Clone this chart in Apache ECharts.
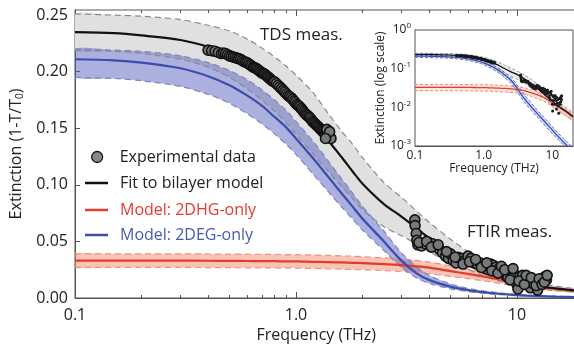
<!DOCTYPE html>
<html><head><meta charset="utf-8">
<script src="https://cdn.jsdelivr.net/npm/echarts@6/dist/echarts.min.js"></script>
<style>html,body{margin:0;padding:0;background:#fff}#c{width:574px;height:348px}</style>
</head><body><div id="c"></div>
<script>
// ---------- data ----------
const freqs = [0.1,0.15,0.2,0.3,0.4,0.5,0.6,0.7,0.8,0.9,1.0,1.2,1.4,1.6,1.8,2.0,2.5,3.0,3.5,4.0,5.0,6.0,7.0,8.0,10,12,15,20];
const fitExt   = [0.235,0.234,0.232,0.228,0.222,0.215,0.206,0.197,0.188,0.179,0.170,0.153,0.139,0.125,0.112,0.101,0.083,0.072,0.062,0.053,0.040,0.031,0.025,0.020,0.0145,0.011,0.0085,0.0058];
const fitUpper = [0.251,0.250,0.249,0.246,0.241,0.236,0.229,0.221,0.213,0.205,0.197,0.181,0.163,0.148,0.136,0.124,0.102,0.089,0.077,0.067,0.052,0.041,0.033,0.027,0.019,0.014,0.0105,0.0072];
const fitLower = [0.219,0.218,0.216,0.211,0.204,0.195,0.185,0.175,0.165,0.155,0.145,0.127,0.112,0.099,0.088,0.078,0.063,0.055,0.048,0.041,0.031,0.025,0.020,0.016,0.011,0.0085,0.0065,0.0046];
const hgExt    = [0.0330,0.0330,0.0330,0.0330,0.0329,0.0328,0.0327,0.0326,0.0325,0.0324,0.0323,0.0320,0.0317,0.0314,0.0311,0.0308,0.0300,0.0291,0.0280,0.0268,0.0238,0.0213,0.0190,0.0170,0.0130,0.0105,0.0080,0.0055];
const hgUpper  = [0.0390,0.0390,0.0390,0.0390,0.0389,0.0388,0.0387,0.0386,0.0385,0.0384,0.0383,0.0380,0.0377,0.0373,0.0369,0.0365,0.0355,0.0344,0.0332,0.0318,0.0283,0.0253,0.0226,0.0202,0.0155,0.0125,0.0095,0.0066];
const hgLower  = [0.0270,0.0270,0.0270,0.0270,0.0269,0.0268,0.0267,0.0266,0.0265,0.0264,0.0263,0.0261,0.0258,0.0255,0.0252,0.0249,0.0242,0.0234,0.0225,0.0215,0.0191,0.0171,0.0152,0.0136,0.0104,0.0084,0.0064,0.0044];
const egExt    = [0.211,0.210,0.208,0.203,0.196,0.188,0.179,0.170,0.160,0.151,0.141,0.123,0.107,0.093,0.081,0.070,0.050,0.033,0.022,0.016,0.010,0.007,0.0052,0.0040,0.0026,0.0018,0.0012,0.0007];
const egUpper  = [0.220,0.219,0.218,0.214,0.208,0.201,0.193,0.184,0.175,0.166,0.156,0.138,0.121,0.106,0.093,0.081,0.059,0.040,0.028,0.020,0.0125,0.0085,0.0064,0.0049,0.0032,0.0022,0.0015,0.0009];
const egLower  = [0.195,0.194,0.192,0.187,0.180,0.172,0.163,0.154,0.145,0.136,0.127,0.109,0.094,0.081,0.070,0.060,0.042,0.027,0.018,0.013,0.0081,0.0057,0.0042,0.0032,0.0021,0.0015,0.0010,0.0006];

const tdsFreq = [0.400,0.415,0.430,0.445,0.460,0.470,0.480,0.490,0.500,0.510,0.520,0.530,0.540,0.550,0.560,0.570,0.580,0.590,0.600,0.610,0.620,0.630,0.640,0.650,0.660,0.670,0.680,0.690,0.700,0.710,0.720,0.730,0.740,0.750,0.760,0.770,0.780,0.790,0.800,0.815,0.830,0.845,0.860,0.875,0.890,0.905,0.920,0.935,0.950,0.965,0.980,0.995,1.010,1.025,1.040,1.055,1.070,1.085,1.100,1.115,1.130,1.145,1.160,1.175,1.190,1.205,1.220,1.235,1.250,1.265,1.280,1.295,1.310,1.325,1.340,1.355,1.370,1.385,1.400,1.410,1.420,1.430,1.440,1.380,1.420,1.360];
const tdsExt  = [0.219,0.2185,0.218,0.217,0.216,0.2165,0.216,0.215,0.214,0.2135,0.213,0.2125,0.212,0.2115,0.211,0.210,0.209,0.2085,0.208,0.207,0.206,0.205,0.204,0.2035,0.203,0.202,0.201,0.200,0.199,0.1985,0.198,0.197,0.196,0.195,0.194,0.193,0.192,0.1915,0.191,0.1895,0.188,0.1865,0.185,0.1835,0.182,0.1805,0.179,0.178,0.177,0.1755,0.174,0.1725,0.171,0.170,0.169,0.1675,0.166,0.1645,0.163,0.162,0.161,0.160,0.159,0.1575,0.156,0.155,0.154,0.153,0.152,0.151,0.150,0.149,0.148,0.147,0.146,0.1455,0.145,0.1445,0.144,0.143,0.142,0.1415,0.141,0.149,0.147,0.141];
const ftirFreq = [3.45,3.46,3.50,3.52,3.56,3.70,3.85,4.00,4.15,4.30,4.45,4.60,4.75,4.90,5.00,5.15,5.30,5.40,5.60,5.80,6.00,6.20,6.40,6.60,6.80,7.00,7.20,7.40,7.60,7.80,8.00,8.30,8.60,8.90,9.10,9.40,9.70,10.0,10.1,10.3,10.6,10.9,11.2,11.5,11.8,12.1,12.4,12.8,13.1,13.4,13.6,
                  3.60,3.90,4.10,4.40,4.80,5.25,5.70,6.10,6.50,6.90,7.30,7.70,8.20,8.50,8.80,9.30,9.60,10.2,10.8,11.0,11.6,12.2,12.6,13.0,13.3,13.7];
const ftirExt  = [0.069,0.064,0.057,0.051,0.047,0.046,0.048,0.049,0.048,0.046,0.043,0.040,0.037,0.035,0.039,0.033,0.031,0.036,0.035,0.033,0.037,0.035,0.031,0.030,0.031,0.028,0.026,0.025,0.030,0.029,0.027,0.026,0.024,0.020,0.018,0.023,0.021,0.012,0.008,0.019,0.020,0.017,0.015,0.009,0.013,0.016,0.007,0.013,0.017,0.019,0.016,
                  0.049,0.050,0.045,0.047,0.041,0.036,0.030,0.032,0.034,0.027,0.031,0.024,0.022,0.028,0.025,0.016,0.026,0.015,0.012,0.020,0.018,0.011,0.017,0.012,0.014,0.020];

const yTicksMain = [0,0.05,0.10,0.15,0.20,0.25];
const xTicksLog = [0.1,1,10];
const xMinorTicks = [0.2,0.3,0.4,0.5,0.6,0.7,0.8,0.9,2,3,4,5,6,7,8,9];
const yTicksInset = [0.001,0.01,0.1,1];
const yMinorInset = [0.002,0.003,0.004,0.005,0.006,0.007,0.008,0.009,0.02,0.03,0.04,0.05,0.06,0.07,0.08,0.09,0.2,0.3,0.4,0.5,0.6,0.7,0.8,0.9];

// ---------- helpers ----------
const FONT = "'Open Sans', sans-serif";
const TXT = '#222';
const AX = '#555';
const pairs = (xs, ys) => xs.map((x, i) => [x, ys[i]]);
const xFmt = v => { const r = Math.round(v * 1000) / 1000; return r === 1 ? '1.0' : String(r); };

function band(name, up, lo, color, xi, yi, z) {
  return {
    type: 'custom', name, xAxisIndex: xi, yAxisIndex: yi, silent: true, z,
    data: [[1, 0.1]],
    renderItem: (params, api) => {
      const pts = [];
      for (let i = 0; i < freqs.length; i++) pts.push(api.coord([freqs[i], up[i]]));
      for (let i = freqs.length - 1; i >= 0; i--) pts.push(api.coord([freqs[i], lo[i]]));
      const cs = params.coordSys;
      return {
        type: 'polygon', shape: { points: pts, smooth: 0.2 }, style: { fill: color },
        clipPath: { type: 'rect', shape: { x: cs.x, y: cs.y, width: cs.width, height: cs.height } }
      };
    }
  };
}
function line(name, ys, color, width, xi, yi, z, dash) {
  return {
    type: 'line', name, xAxisIndex: xi, yAxisIndex: yi, z, silent: true,
    data: pairs(freqs, ys), smooth: 0.3, showSymbol: false, symbol: 'none',
    lineStyle: { color, width, type: dash || 'solid' }, clip: true
  };
}
function logX(gridIndex, position, opts) {
  return Object.assign({
    type: 'log', logBase: 10, gridIndex, position, min: 0.1, max: 20,
    axisLine: { show: false }, splitLine: { show: false }, axisLabel: { show: false },
    axisTick: { show: true, inside: true, length: 5, lineStyle: { color: AX } }
  }, opts);
}

const chart = echarts.init(document.getElementById('c'), null, { renderer: 'canvas' });
const dataStyle = { color: '#757979', borderColor: '#121212', borderWidth: 1.6, opacity: 1 };

const option = {
  backgroundColor: '#fff',
  animation: false,
  textStyle: { fontFamily: FONT },
  grid: [
    { left: 75, top: 10, width: 508.5, height: 288, show: true, borderColor: AX, borderWidth: 1, backgroundColor: 'transparent', containLabel: false, outerBoundsMode: 'none' },
    { left: 415, top: 30, width: 158, height: 116, show: true, borderColor: AX, borderWidth: 1, backgroundColor: '#fff', containLabel: false, outerBoundsMode: 'none', z: 10 }
  ],
  xAxis: [
    logX(0, 'bottom', {
      axisLine: { show: true, lineStyle: { color: AX } },
      axisTick: { show: true, inside: true, length: 6, customValues: xTicksLog, lineStyle: { color: AX } },
      axisLabel: { show: true, customValues: xTicksLog, formatter: xFmt, fontSize: 16, color: TXT, margin: 9, fontFamily: FONT },
      name: 'Frequency (THz)', nameLocation: 'middle', nameGap: 27,
      nameTextStyle: { fontSize: 16, color: TXT, fontFamily: FONT, padding: [0, 26, 0, 0] }
    }),
    logX(0, 'bottom', { axisTick: { show: true, inside: true, length: 3, customValues: xMinorTicks, lineStyle: { color: AX } } }),
    logX(0, 'top', { axisTick: { show: true, inside: true, length: 6, customValues: xTicksLog, lineStyle: { color: AX } } }),
    logX(0, 'top', { axisTick: { show: true, inside: true, length: 3, customValues: xMinorTicks, lineStyle: { color: AX } } }),
    logX(1, 'bottom', {
      axisLine: { show: true, lineStyle: { color: AX } },
      axisTick: { show: true, inside: true, length: 4, customValues: xTicksLog, lineStyle: { color: AX } },
      axisLabel: { show: true, customValues: xTicksLog, formatter: xFmt, fontSize: 12, color: TXT, margin: 4, fontFamily: FONT },
      name: 'Frequency (THz)', nameLocation: 'middle', nameGap: 16,
      nameTextStyle: { fontSize: 12, color: TXT, fontFamily: FONT }
    }),
    logX(1, 'bottom', { axisTick: { show: true, inside: true, length: 2, customValues: xMinorTicks, lineStyle: { color: AX } } }),
    logX(1, 'top', { axisTick: { show: true, inside: true, length: 4, customValues: xTicksLog, lineStyle: { color: AX } } }),
    logX(1, 'top', { axisTick: { show: true, inside: true, length: 2, customValues: xMinorTicks, lineStyle: { color: AX } } })
  ],
  yAxis: [
    {
      type: 'value', gridIndex: 0, position: 'left', min: 0, max: 0.2545,
      axisLine: { show: true, lineStyle: { color: AX } }, splitLine: { show: false },
      axisTick: { show: true, inside: true, length: 5, customValues: yTicksMain, lineStyle: { color: AX } },
      axisLabel: { customValues: yTicksMain, formatter: v => v.toFixed(2), fontSize: 16, color: TXT, margin: 7, fontFamily: FONT },
      name: 'Extinction (1-T/T{sub|0})', nameLocation: 'middle', nameGap: 38, nameRotate: 90,
      nameTextStyle: { fontSize: 16, color: TXT, fontFamily: FONT,
        rich: { sub: { fontSize: 10, color: TXT, fontFamily: FONT, padding: [8, 0, 0, 0] } } }
    },
    {
      type: 'log', logBase: 10, gridIndex: 1, position: 'left', min: 0.001, max: 1,
      axisLine: { show: true, lineStyle: { color: AX } }, splitLine: { show: false },
      axisTick: { show: true, inside: true, length: 4, customValues: yTicksInset, lineStyle: { color: AX } },
      axisLabel: {
        customValues: yTicksInset, margin: 4, color: TXT, fontFamily: FONT,
        formatter: v => '{b|10}{s|' + Math.round(Math.log10(v)) + '}',
        rich: { b: { fontSize: 12, color: TXT, fontFamily: FONT }, s: { fontSize: 8, color: TXT, fontFamily: FONT, padding: [0, 0, 8, 0] } }
      },
      name: 'Extinction (log scale)', nameLocation: 'middle', nameGap: 21, nameRotate: 90,
      nameTextStyle: { fontSize: 12, color: TXT, fontFamily: FONT }
    },
    {
      type: 'log', logBase: 10, gridIndex: 1, position: 'left', min: 0.001, max: 1,
      axisLine: { show: false }, splitLine: { show: false }, axisLabel: { show: false },
      axisTick: { show: true, inside: true, length: 2, customValues: yMinorInset, lineStyle: { color: AX } }
    },
    {
      type: 'log', logBase: 10, gridIndex: 1, position: 'right', min: 0.001, max: 1,
      axisLine: { show: false }, splitLine: { show: false }, axisLabel: { show: false },
      axisTick: { show: true, inside: true, length: 4, customValues: yTicksInset, lineStyle: { color: AX } }
    }
  ],
  legend: [
    { left: 91, top: 149, padding: 0, orient: 'vertical', itemWidth: 11, itemHeight: 11, selectedMode: false,
      data: [{ name: 'Experimental data', icon: 'circle', itemStyle: { color: '#858888', borderColor: '#141414', borderWidth: 1.3 } }],
      textStyle: { fontSize: 16, color: TXT, fontFamily: FONT, padding: [0, 0, 0, 12] } },
    { left: 85, top: 175, padding: 0, itemWidth: 23, itemHeight: 2.5, selectedMode: false,
      data: [{ name: 'Fit to bilayer model', icon: 'rect', itemStyle: { color: '#111' } }],
      textStyle: { fontSize: 16, color: TXT, fontFamily: FONT, padding: [0, 0, 0, 7] } },
    { left: 85, top: 202, padding: 0, itemWidth: 23, itemHeight: 2.5, selectedMode: false,
      data: [{ name: 'Model: 2DHG-only', icon: 'rect', itemStyle: { color: '#e8392d' } }],
      textStyle: { fontSize: 16, color: '#e8392d', fontFamily: FONT, padding: [0, 0, 0, 7] } },
    { left: 85, top: 227, padding: 0, itemWidth: 23, itemHeight: 2.5, selectedMode: false,
      data: [{ name: 'Model: 2DEG-only', icon: 'rect', itemStyle: { color: '#3a4dab' } }],
      textStyle: { fontSize: 16, color: '#4a5ab4', fontFamily: FONT, padding: [0, 0, 0, 7] } }
  ],
  graphic: [
    { type: 'text', left: 260, top: 27, z: 20, style: { text: 'TDS meas.', fontSize: 17, fill: TXT, fontFamily: FONT } },
    { type: 'text', left: 467, top: 224, z: 20, style: { text: 'FTIR meas.', fontSize: 17, fill: TXT, fontFamily: FONT } }
  ],
  series: [
    // main plot
    band('band-fit', fitUpper, fitLower, '#e0e0e0', 0, 0, 1),
    band('band-hg', hgUpper, hgLower, 'rgba(240,140,110,0.5)', 0, 0, 1),
    band('band-eg', egUpper, egLower, 'rgba(80,90,185,0.48)', 0, 0, 1),
    line('fit-up', fitUpper, '#8a8a8a', 1.2, 0, 0, 2, [6, 4]),
    line('fit-lo', fitLower, '#8a8a8a', 1.2, 0, 0, 2, [6, 4]),
    line('hg-up', hgUpper, '#f0927a', 1.2, 0, 0, 2, [6, 4]),
    line('hg-lo', hgLower, '#f0927a', 1.2, 0, 0, 2, [6, 4]),
    line('eg-up', egUpper, '#7e85c2', 1.2, 0, 0, 2, [6, 4]),
    line('eg-lo', egLower, '#7e85c2', 1.2, 0, 0, 2, [6, 4]),
    line('Model: 2DHG-only', hgExt, '#e8392d', 2.2, 0, 0, 3),
    line('Model: 2DEG-only', egExt, '#3a4dab', 2.2, 0, 0, 3),
    line('Fit to bilayer model', fitExt, '#111', 2.2, 0, 0, 3),
    { type: 'scatter', name: 'Experimental data', xAxisIndex: 0, yAxisIndex: 0, z: 4, silent: true,
      data: pairs(tdsFreq, tdsExt).concat(pairs(ftirFreq, ftirExt)), symbolSize: 10, itemStyle: dataStyle },
    // inset
    band('i-band-fit', fitUpper, fitLower, 'rgba(200,200,200,0.35)', 4, 1, 11),
    band('i-band-hg', hgUpper, hgLower, 'rgba(245,170,140,0.3)', 4, 1, 11),
    band('i-band-eg', egUpper, egLower, 'rgba(120,140,230,0.3)', 4, 1, 11),
    line('i-fit-up', fitUpper, '#999', 1, 4, 1, 12, [3, 2]),
    line('i-fit-lo', fitLower, '#999', 1, 4, 1, 12, [3, 2]),
    line('i-hg-up', hgUpper, '#f08a6a', 1, 4, 1, 12, [3, 2]),
    line('i-hg-lo', hgLower, '#f08a6a', 1, 4, 1, 12, [3, 2]),
    line('i-eg-up', egUpper, '#5b70e0', 1, 4, 1, 12, [3, 2]),
    line('i-eg-lo', egLower, '#5b70e0', 1, 4, 1, 12, [3, 2]),
    line('i-hg', hgExt, '#e8392d', 1.3, 4, 1, 13),
    line('i-eg', egExt, '#3a4dab', 1.3, 4, 1, 13),
    line('i-fit', fitExt, '#111', 1.3, 4, 1, 13),
    { type: 'scatter', name: 'i-data', xAxisIndex: 4, yAxisIndex: 1, z: 14, silent: true,
      data: pairs(tdsFreq, tdsExt).concat(pairs(ftirFreq, ftirExt)), symbolSize: 3,
      itemStyle: { color: '#1a1a1a', opacity: 1 } }
  ]
};
chart.setOption(option);
</script>
</body></html>
